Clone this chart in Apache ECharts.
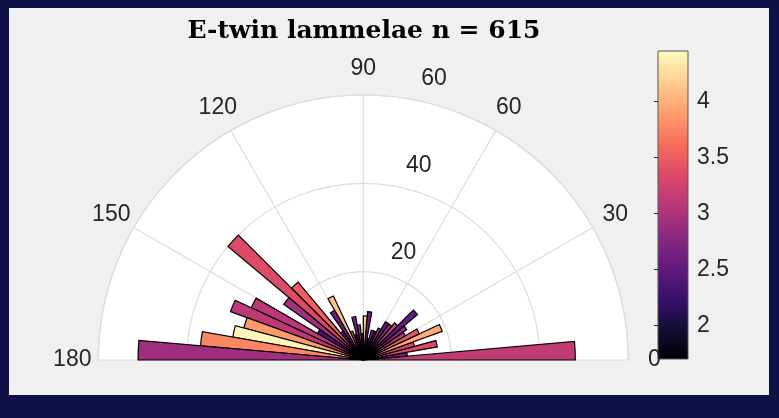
<!DOCTYPE html>
<html>
<head>
<meta charset="utf-8">
<script src="https://cdn.jsdelivr.net/npm/echarts@6/dist/echarts.min.js"></script>
<style>
  html, body { margin: 0; padding: 0; background: #11114a; }
  #fig { position: absolute; left: 9px; top: 8px; width: 760px; height: 387px; background: #f0f0f0; }
</style>
</head>
<body>
<div id="fig"></div>
<script>
// 5 degree bins from 0 to 180 (bin centres)
var binCenters = [2.5, 7.5, 12.5, 17.5, 22.5, 27.5, 32.5, 37.5, 42.5, 47.5,
                  52.5, 57.5, 62.5, 67.5, 72.5, 77.5, 82.5, 87.5, 92.5, 97.5,
                  102.5, 107.5, 112.5, 117.5, 122.5, 127.5, 132.5, 137.5, 142.5, 147.5,
                  152.5, 157.5, 162.5, 167.5, 172.5, 177.5];
// counts per bin (n = 615)
var counts = [48, 10, 17, 12, 19, 14, 11, 12, 16, 11,
              10, 10, 8, 7, 7, 5, 11, 10, 6, 8,
              10, 6, 7, 16, 13, 8, 23, 40, 22, 12,
              28, 32, 28, 30, 37, 51];
// colour value per bin (colorbar scale)
var colorVals = [3.15, 2.6, 3.35, 3.3, 3.95, 3.45, 3.1, 2.8, 2.55, 3.2,
                 2.9, 2.5, 3.0, 2.3, 2.7, 2.2, 2.6, 4.1, 2.0, 2.9,
                 2.6, 2.1, 3.3, 4.1, 2.55, 2.4, 3.5, 3.35, 2.94, 2.36,
                 3.1, 3.12, 3.87, 4.4, 3.76, 2.91];
var angleTicks = [0, 30, 60, 90, 120, 150, 180];
var rTicks = [20, 40, 60];
var cbTicks = [2, 2.5, 3, 3.5, 4];
var cbMin = 1.7, cbMax = 4.45;

var magma = ['#000004', '#140e36', '#3b0f70', '#641a80', '#8c2981', '#b73779',
             '#de4968', '#f7705c', '#fe9f6d', '#fecf92', '#fcfdbf'];

var chart = echarts.init(document.getElementById('fig'));

var gridCol = '#dcdcdc';
var labelFont = { fontSize: 23, fontFamily: 'Liberation Sans', color: '#262626' };
var cx = 354.3, cy = 352, rad = 265;

var cbGradient = new echarts.graphic.LinearGradient(0, 1, 0, 0,
  magma.map(function (c, i) { return { offset: i / (magma.length - 1), color: c }; }));

chart.setOption({
  animation: false,
  title: {
    text: 'E-twin lammelae n = 615',
    left: 355, top: 11, textAlign: 'center', padding: 0,
    textStyle: { fontFamily: 'DejaVu Serif', fontWeight: 'bold', fontSize: 25, color: '#000' }
  },
  polar: [
    { center: [cx, cy], radius: rad },
    { center: [cx, cy], radius: rad }
  ],
  angleAxis: [
    {
      polarIndex: 0, type: 'value', min: 0, max: 180, interval: 30,
      startAngle: 0, endAngle: 180, clockwise: false,
      axisLine: { show: true, lineStyle: { color: gridCol, width: 1.2 } },
      axisTick: { show: false },
      axisLabel: { show: false },
      splitLine: { show: true, lineStyle: { color: gridCol, width: 1.2 } }
    },
    {
      polarIndex: 1, type: 'category', data: binCenters.map(String), boundaryGap: true,
      startAngle: 0, endAngle: 180, clockwise: false,
      axisLine: { show: false }, axisTick: { show: false },
      axisLabel: { show: false }, splitLine: { show: false }
    }
  ],
  radiusAxis: [
    {
      polarIndex: 0, type: 'value', min: 0, max: 60, interval: 20,
      axisLine: { show: false }, axisTick: { show: false }, axisLabel: { show: false },
      splitLine: { show: true, lineStyle: { color: gridCol, width: 1.2 } }
    },
    { polarIndex: 1, type: 'value', min: 0, max: 60, show: false }
  ],
  grid: {
    left: 649, top: 43, width: 30, height: 308,
    show: true, backgroundColor: cbGradient, borderColor: '#555', borderWidth: 1
  },
  xAxis: { type: 'value', min: 0, max: 1, show: false },
  yAxis: {
    type: 'value', min: cbMin, max: cbMax, position: 'right',
    axisLine: { show: false }, splitLine: { show: false },
    axisTick: { show: true, inside: true, length: 4, customValues: cbTicks, lineStyle: { color: '#262626' } },
    axisLabel: Object.assign({ margin: 9, customValues: cbTicks }, labelFont)
  },
  visualMap: {
    type: 'continuous', show: false, min: cbMin, max: cbMax,
    dimension: 2, seriesIndex: 0, inRange: { color: magma }
  },
  series: [{
    type: 'bar', coordinateSystem: 'polar', polarIndex: 1,
    data: counts.map(function (c, i) { return [c, i, colorVals[i]]; }),
    barCategoryGap: '0%', barGap: '0%',
    itemStyle: { borderColor: '#000', borderWidth: 1.2 },
    silent: true
  }]
});

// white half disc behind the grid, sized from the polar scale
var c0 = chart.convertToPixel({ polarIndex: 0 }, [0, 0]);
var cR = chart.convertToPixel({ polarIndex: 0 }, [60, 0]);
var rPix = Math.abs(cR[0] - c0[0]);
var els = [{
  type: 'sector', z: -10, silent: true,
  shape: { cx: c0[0], cy: c0[1], r0: 0, r: rPix, startAngle: -Math.PI, endAngle: 0 },
  style: { fill: '#ffffff' }
}];

// angle labels centred just outside the rim, like the original
var labelR = 60 * 291 / 265;
angleTicks.forEach(function (a) {
  var p = chart.convertToPixel({ polarIndex: 0 }, [labelR, a]);
  els.push({
    type: 'text', x: p[0], y: p[1], z: 10,
    style: { text: String(a), fontSize: 23, fontFamily: 'Liberation Sans', fill: '#262626',
             align: 'center', verticalAlign: 'middle' }
  });
});

// radial tick labels sit beside the 80 degree direction
rTicks.forEach(function (r) {
  var p = chart.convertToPixel({ polarIndex: 0 }, [r, 80]);
  els.push({
    type: 'text', x: p[0] + 12, y: p[1] - 20, z: 10,
    style: { text: String(r), fontSize: 23, fontFamily: 'Liberation Sans', fill: '#262626',
             align: 'left', verticalAlign: 'middle' }
  });
});
chart.setOption({ graphic: els });
</script>
</body>
</html>
